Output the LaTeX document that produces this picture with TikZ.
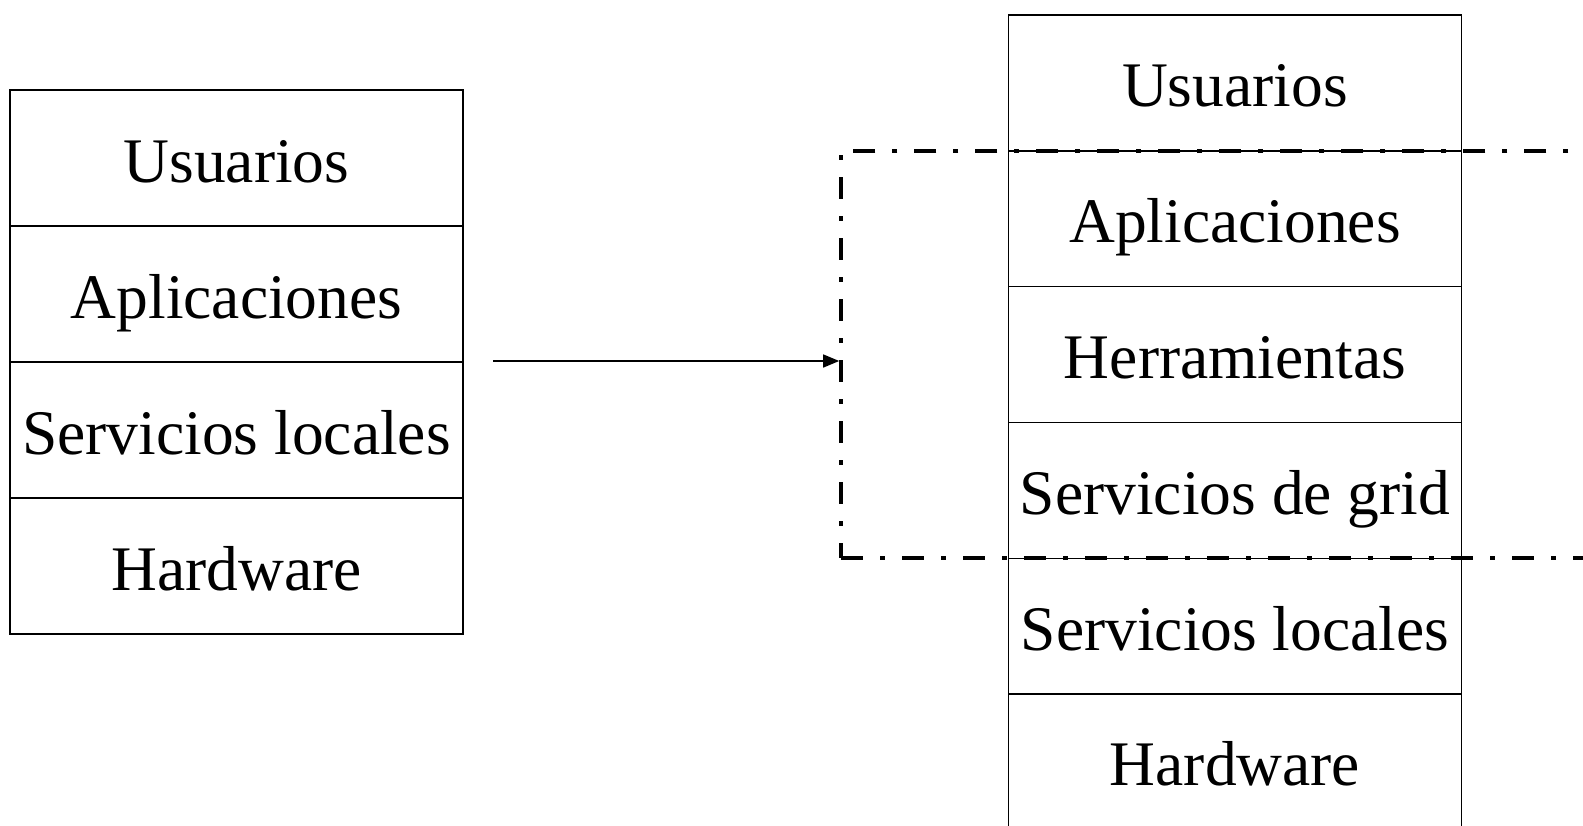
\documentclass[tikz,border=0pt]{standalone}
\usepackage{fontspec}
\setmainfont{Liberation Serif}
\usetikzlibrary{arrows.meta}
\begin{document}
\begin{tikzpicture}[x=1pt,y=-1pt,
  layer/.style={draw,line width=1.4pt,inner sep=0pt,minimum width=453pt,minimum height=135.8pt,
    text height=53.5pt,text depth=5.5pt,font=\fontsize{63.5}{70}\selectfont},
  gridbox/.style={draw,line width=3.6pt,dash pattern=on 22pt off 17pt on 5pt off 17pt,inner sep=0pt},
  conn/.style={line width=1.4pt,-{Triangle[length=16pt,width=13pt]}}]
\useasboundingbox (0,0) rectangle (1583,825);
\clip (0,0) rectangle (1583,825);
% left stack
\node[layer] (l1) at (236.5,158) {Usuarios};
\node[layer] (l2) at (236.5,294) {Aplicaciones};
\node[layer] (l3) at (236.5,430) {Servicios locales};
\node[layer] (l4) at (236.5,566) {Hardware};
% right stack
\node[layer] (r1) at (1235,82.9) {Usuarios};
\node[layer] (r2) at (1235,218.7) {Aplicaciones};
\node[layer] (r3) at (1235,354.5) {Herramientas};
\node[layer] (r4) at (1235,490.3) {Servicios de grid};
\node[layer] (r5) at (1235,626.1) {Servicios locales};
\node[layer] (r6) at (1235,761.9) {Hardware};
% grid region
\node[gridbox,minimum width=759pt,minimum height=407.4pt] (grid) at (1220.5,354.5) {};
% arrow
\coordinate (arrstart) at (493,361);
\draw[conn] (arrstart) -- (grid.west |- arrstart);
\end{tikzpicture}
\end{document}
